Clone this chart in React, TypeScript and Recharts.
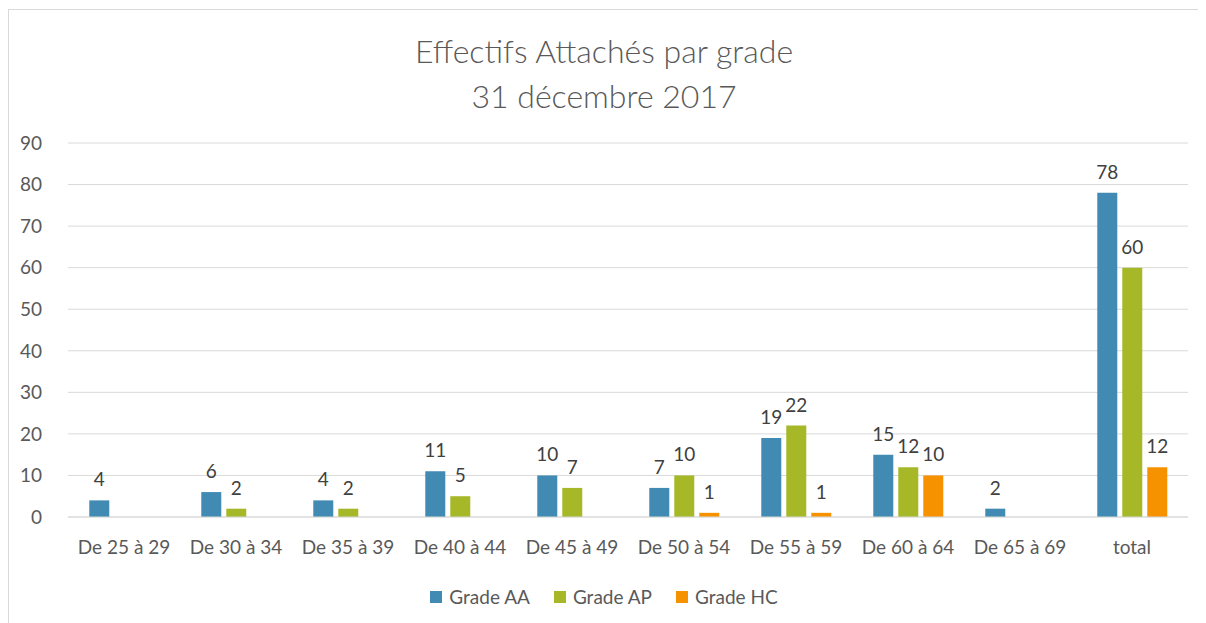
import { Bar, BarChart, CartesianGrid, LabelList, XAxis, YAxis } from "recharts";

const categories = [
  "De 25 à 29",
  "De 30 à 34",
  "De 35 à 39",
  "De 40 à 44",
  "De 45 à 49",
  "De 50 à 54",
  "De 55 à 59",
  "De 60 à 64",
  "De 65 à 69",
  "total",
];
const gradeAA = [4, 6, 4, 11, 10, 7, 19, 15, 2, 78];
const gradeAP = [null, 2, 2, 5, 7, 10, 22, 12, null, 60];
const gradeHC = [null, null, null, null, null, 1, 1, 10, null, 12];
const yTicks = [0, 10, 20, 30, 40, 50, 60, 70, 80, 90];

const series = [
  { key: "aa", name: "Grade AA", color: "#418ab3" },
  { key: "ap", name: "Grade AP", color: "#a6b727" },
  { key: "hc", name: "Grade HC", color: "#f69200" },
];

const data = categories.map((c, i) => ({
  name: c,
  aa: gradeAA[i],
  ap: gradeAP[i],
  hc: gradeHC[i],
}));

const FONT = "Lato, 'Open Sans', sans-serif";
const TEXT = "#595959";

const hideEmpty = (v: unknown) => (v == null || v === 0 ? "" : String(v));

export default function App() {
  return (
    <div
      style={{
        position: "relative",
        width: 1190,
        height: 620,
        marginTop: 1,
        border: "1px solid #d9d9d9",
        fontFamily: FONT,
        background: "#fff",
      }}
    >
      <div
        style={{
          position: "absolute",
          top: 18,
          left: 0,
          width: "100%",
          textAlign: "center",
          color: TEXT,
          fontSize: 32,
          fontWeight: 300,
          lineHeight: "45px",
        }}
      >
        <div>Effectifs Attachés par grade</div>
        <div>31 décembre 2017</div>
      </div>
      <BarChart
        width={1190}
        height={615}
        data={data}
        margin={{ top: 133, right: 11, bottom: 58, left: 0 }}
        barCategoryGap="19%"
        barGap={5}
      >
        <CartesianGrid vertical={false} stroke="#d9d9d9" />
        <XAxis
          dataKey="name"
          axisLine={{ stroke: "#d9d9d9" }}
          tickLine={false}
          tick={{ fill: TEXT, fontSize: 19, fontFamily: FONT }}
          tickMargin={18}
          height={50}
          interval={0}
        />
        <YAxis
          domain={[0, 90]}
          ticks={yTicks}
          axisLine={false}
          tickLine={false}
          tick={{ fill: TEXT, fontSize: 19, fontFamily: FONT }}
          width={59}
          tickMargin={20}
        />
        {series.map((s) => (
          <Bar key={s.key} dataKey={s.key} name={s.name} fill={s.color} isAnimationActive={false}>
            <LabelList
              dataKey={s.key}
              position="top"
              offset={14}
              fill="#404040"
              fontSize={19}
              fontFamily={FONT}
              formatter={hideEmpty}
            />
          </Bar>
        ))}
      </BarChart>
      <div
        style={{
          position: "absolute",
          top: 575,
          left: 0,
          width: "100%",
          display: "flex",
          justifyContent: "center",
          gap: 24,
          color: TEXT,
          fontSize: 19,
        }}
      >
        {series.map((s) => (
          <div key={s.key} style={{ display: "flex", alignItems: "center", gap: 7 }}>
            <span style={{ width: 12, height: 12, background: s.color, display: "inline-block" }} />
            <span>{s.name}</span>
          </div>
        ))}
      </div>
    </div>
  );
}
